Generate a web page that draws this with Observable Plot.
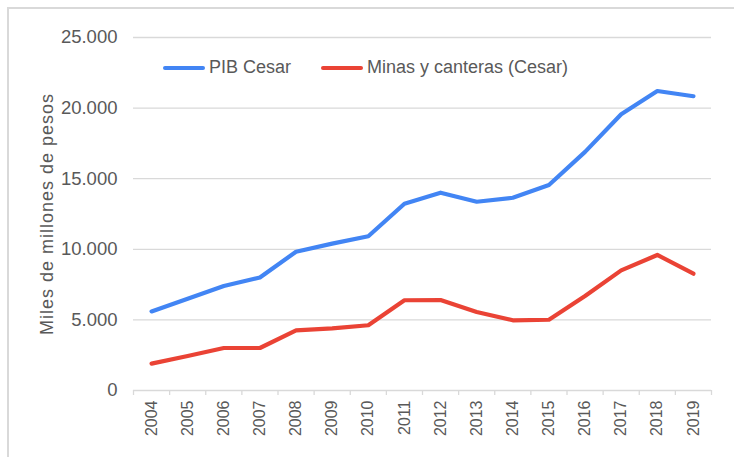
<!DOCTYPE html>
<html>
<head>
<meta charset="utf-8">
<script src="https://cdn.jsdelivr.net/npm/d3@7"></script>
<script src="https://cdn.jsdelivr.net/npm/@observablehq/plot@0.6"></script>
<style>
  html, body { margin: 0; padding: 0; background: #fff; }
  body { width: 734px; height: 457px; position: relative; overflow: hidden; font-family: "Liberation Sans", Arial, sans-serif; }
  #frame { position: absolute; left: 7px; top: 7px; width: 760px; height: 480px; border: 2px solid #d9d9d9; box-sizing: border-box; }
  #chart { position: absolute; left: 0; top: 0; }
  #chart g[aria-label="y-axis label"] { font-size: 18px; letter-spacing: 1px; }
  .legend { position: absolute; top: 57px; display: flex; align-items: center; font-size: 18px; color: #595959; }
  .legend .sw { width: 42px; height: 4px; border-radius: 2px; margin-right: 4px; }
</style>
</head>
<body>
<div id="frame"></div>
<div id="chart"></div>
<div class="legend" style="left:163px"><span class="sw" style="background:#4285F4"></span>PIB Cesar</div>
<div class="legend" style="left:321px"><span class="sw" style="background:#EA4335"></span>Minas y canteras (Cesar)</div>
<script>
const years = [2004, 2005, 2006, 2007, 2008, 2009, 2010, 2011, 2012, 2013, 2014, 2015, 2016, 2017, 2018, 2019];
const pibCesar = [5600, 6500, 7400, 8000, 9830, 10400, 10920, 13230, 14010, 13370, 13650, 14550, 16900, 19560, 21210, 20840];
const minas = [1900, 2440, 3010, 3010, 4260, 4400, 4620, 6390, 6410, 5560, 4970, 5010, 6690, 8510, 9600, 8270];
const seriesNames = ["PIB Cesar", "Minas y canteras (Cesar)"];
const seriesColors = ["#4285F4", "#EA4335"];
const yTicks = [0, 5000, 10000, 15000, 20000, 25000];
const yTitle = "Miles de millones de pesos";

const data = [];
years.forEach((y, i) => {
  data.push({year: y, value: pibCesar[i], series: seriesNames[0]});
  data.push({year: y, value: minas[i], series: seriesNames[1]});
});
const boundaries = years.map(y => y - 0.5).concat([years[years.length - 1] + 0.5]);
const fmt = d => d3.format(",")(d).replace(/,/g, ".");

const chart = Plot.plot({
  width: 734,
  height: 457,
  marginLeft: 133,
  marginRight: 23,
  marginTop: 37,
  marginBottom: 67,
  style: {fontFamily: "Liberation Sans, Arial, sans-serif", color: "#595959", background: "transparent"},
  x: {type: "linear", domain: [years[0] - 0.5, years[years.length - 1] + 0.5]},
  y: {domain: [0, 25000]},
  color: {domain: seriesNames, range: seriesColors},
  marks: [
    Plot.gridY(yTicks, {stroke: "#d9d9d9", strokeOpacity: 1, strokeWidth: 1.3}),
    Plot.axisY(yTicks, {tickSize: 0, tickPadding: 16, tickFormat: fmt, fontSize: 18.5, fill: "#595959",
      label: yTitle, labelAnchor: "center", labelArrow: "none", labelOffset: 93}),
    Plot.axisX(boundaries, {tickSize: 5, tickFormat: () => "", stroke: "#d9d9d9", strokeWidth: 1.3, label: null}),
    Plot.axisX(years, {tickSize: 0, tickRotate: -90, tickPadding: 10, tickFormat: d => String(d), fontSize: 16,
      fontFamily: "Liberation Sans Narrow, Arial Narrow, Liberation Sans, sans-serif", fill: "#595959", label: null}),
    Plot.line(data, {x: "year", y: "value", z: "series", stroke: "series", strokeWidth: 4.2, strokeLinecap: "round", strokeLinejoin: "round"})
  ]
});
document.getElementById("chart").appendChild(chart);
</script>
</body>
</html>
